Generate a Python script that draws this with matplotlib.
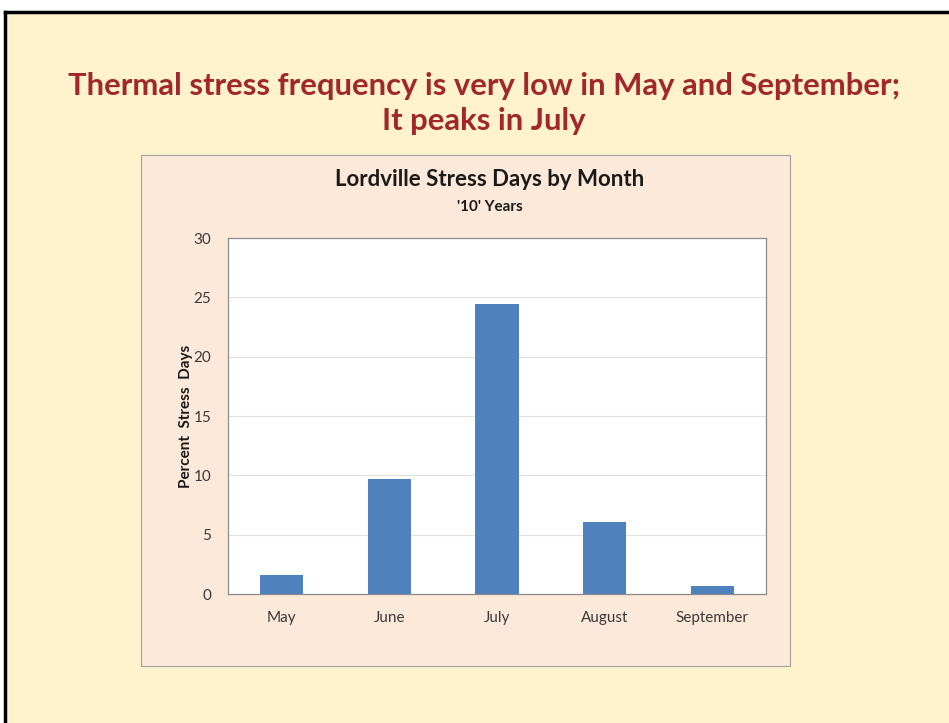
import matplotlib.pyplot as plt
from matplotlib.patches import Rectangle
from matplotlib.lines import Line2D

months = ["May", "June", "July", "August", "September"]
stress_pct = [1.6, 9.7, 24.4, 6.1, 0.7]
y_ticks = [0, 5, 10, 15, 20, 25, 30]

W, H = 949, 723


def fx(px):
    return px / W


def fy(py):
    return 1 - py / H


plt.rcParams["font.family"] = ["Lato", "DejaVu Sans"]

fig = plt.figure(figsize=(W / 100, H / 100), dpi=100)
fig.patch.set_facecolor("white")

# slide background with top/left border
fig.patches.append(Rectangle((fx(5), 0), 1 - fx(5), fy(12), transform=fig.transFigure,
                             facecolor="#FFF2CC", edgecolor="none", zorder=-3))
fig.lines.append(Line2D([fx(5), 1], [fy(12), fy(12)], transform=fig.transFigure,
                        color="black", lw=2.5, zorder=-2))
fig.lines.append(Line2D([fx(5), fx(5)], [0, fy(12)], transform=fig.transFigure,
                        color="black", lw=2.5, zorder=-2))

# chart panel
fig.patches.append(Rectangle((fx(141), fy(666)), fx(790) - fx(141), fy(155) - fy(666),
                             transform=fig.transFigure, facecolor="#FDE9D9",
                             edgecolor="#A0A0A0", lw=0.8, zorder=-1))

fig.text(fx(484), fy(86), "Thermal stress frequency is very low in May and September;",
         ha="center", va="center", fontsize=22.3, fontweight="bold", color="#A0282A")
fig.text(fx(484), fy(121), "It peaks in July",
         ha="center", va="center", fontsize=22.3, fontweight="bold", color="#A0282A")

fig.text(fx(490), fy(180), "Lordville Stress Days by Month",
         ha="center", va="center", fontsize=16, fontweight="bold", color="#1A1A1A")
fig.text(fx(490), fy(207), "'10' Years",
         ha="center", va="center", fontsize=11, fontweight="bold", color="#1A1A1A")

ax = fig.add_axes([fx(228), fy(594), fx(766) - fx(228), fy(238) - fy(594)])
ax.set_zorder(2)
ax.set_facecolor("white")
x = range(len(months))
ax.bar(x, stress_pct, width=0.4, color="#4F81BD", zorder=3)

ax.set_xlim(-0.5, len(months) - 0.5)
ax.set_ylim(0, 30)
ax.set_yticks(y_ticks)
ax.set_xticks(list(x))
ax.set_xticklabels(months)
ax.yaxis.grid(True, color="#E0E0E0", lw=0.8, zorder=0)
ax.tick_params(axis="both", length=0, labelsize=11, colors="#3A3A3A")
ax.tick_params(axis="y", pad=12)
ax.tick_params(axis="x", pad=12)
for side in ax.spines.values():
    side.set_color("#8C8C8C")
    side.set_linewidth(0.9)

ax.set_ylabel("Percent  Stress  Days", fontsize=11, fontweight="bold", color="#1A1A1A")
ax.yaxis.set_label_coords(-0.065, 0.5)

fig.savefig("out.png", dpi=100)
